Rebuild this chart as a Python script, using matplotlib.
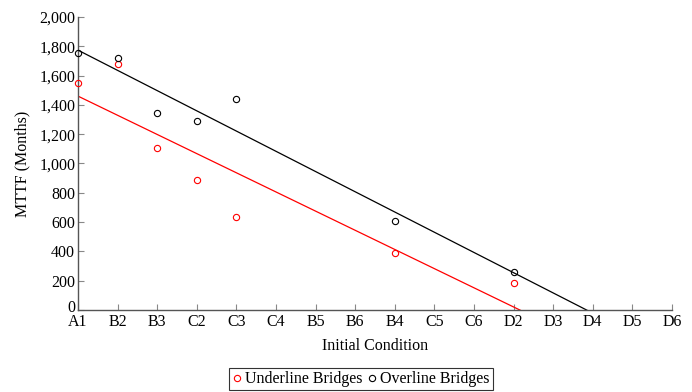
import numpy as np
import matplotlib
matplotlib.use("Agg")
import matplotlib.pyplot as plt
import matplotlib.transforms as mtransforms
from matplotlib.ticker import FuncFormatter

categories = ["A1", "B2", "B3", "C2", "C3", "C4", "B5", "B6", "B4", "C5", "C6", "D2", "D3", "D4", "D5", "D6"]
under_cats = ["A1", "B2", "B3", "C2", "C3", "B4", "D2"]
under_vals = [1547, 1681, 1106, 887, 633, 387, 184]
over_cats = ["A1", "B2", "B3", "C2", "C3", "B4", "D2"]
over_vals = [1752, 1722, 1343, 1288, 1438, 609, 259]

plt.rcParams['font.family'] = ['Liberation Serif', 'DejaVu Serif']
fig = plt.figure(figsize=(6.92, 3.92), dpi=100)
ax = fig.add_axes([78/692, 82/392, 594/692, 293/392])

idx = {c: i for i, c in enumerate(categories)}
xu = np.array([idx[c] for c in under_cats], float)
xo = np.array([idx[c] for c in over_cats], float)

xs = np.array([0, len(categories) - 1], float)
for x, y, col in [(xu, under_vals, 'red'), (xo, over_vals, 'black')]:
    m, b = np.polyfit(x, y, 1)
    ax.plot(xs, m * xs + b, color=col, lw=0.9, zorder=2)

ax.plot(xu, under_vals, 'o', mfc='none', mec='red', ms=4.5, mew=0.8, ls='none',
        label='Underline Bridges', zorder=3, clip_on=False)
ax.plot(xo, over_vals, 'o', mfc='none', mec='black', ms=4.5, mew=0.8, ls='none',
        label='Overline Bridges', zorder=3, clip_on=False)

ax.set_xlim(0, len(categories) - 1)
ax.set_ylim(0, 2000)
ax.set_xticks(range(len(categories)))
ax.set_xticklabels(categories)
ax.set_yticks(range(0, 2001, 200))
ax.yaxis.set_major_formatter(FuncFormatter(lambda v, p: f"{int(v):,}"))
for s in ['top', 'right']:
    ax.spines[s].set_visible(False)
for s in ['left', 'bottom']:
    ax.spines[s].set_color('#555555')
    ax.spines[s].set_linewidth(1.0)
ax.tick_params(direction='in', length=4, color='#888888', labelsize=11.5, pad=3)
ax.tick_params(axis='y', pad=2)
ax.set_xlabel('Initial Condition', fontsize=11.5, labelpad=6)
ax.set_ylabel('MTTF (Months)', fontsize=11.5, labelpad=6)

# raise the "0" label slightly, as in the reference
fig.canvas.draw()
lbl0 = ax.get_yticklabels()[0]
lbl0.set_transform(lbl0.get_transform() + mtransforms.ScaledTranslation(0, 4/100, fig.dpi_scale_trans))

leg = ax.legend(loc='upper center', bbox_to_anchor=(0.476, -0.198), ncol=2, frameon=True,
                fancybox=False, edgecolor='black', fontsize=11.5, handlelength=0.6,
                handletextpad=0.2, columnspacing=0.3, borderpad=0.2, borderaxespad=0)
leg.get_frame().set_linewidth(0.8)

fig.savefig('out.png', dpi=100)
